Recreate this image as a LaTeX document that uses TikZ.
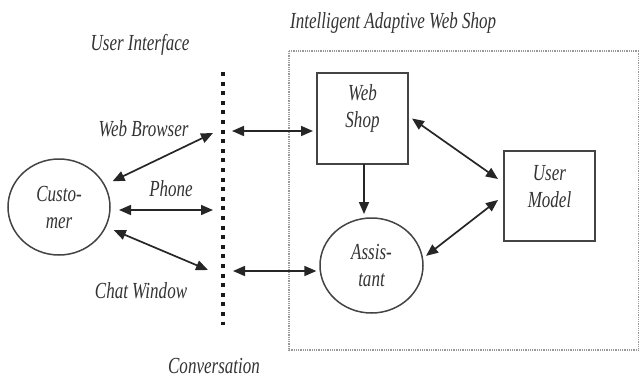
\documentclass[tikz,border=0pt]{standalone}
\usepackage{fontspec}
\setmainfont{Liberation Serif}[FakeStretch=0.74]
\usetikzlibrary{arrows.meta,shapes.geometric}
\definecolor{ink}{HTML}{333333}
\definecolor{edge}{HTML}{444444}
\definecolor{frame}{HTML}{999999}
\begin{document}
\begin{tikzpicture}[x=1pt,y=-1pt,
  lbl/.style={font=\fontsize{23}{27}\selectfont\itshape, text=ink, align=center, inner sep=0pt},
  oval/.style={ellipse, draw=edge, line width=1.5pt, inner sep=0pt},
  block/.style={rectangle, draw=edge, line width=1.8pt, inner sep=0pt, outer sep=4pt},
  tip/.style={Triangle[length=12pt,width=10pt]},
  link/.style={draw=black!85, line width=1.7pt, {Triangle[length=12pt,width=10pt]}-{Triangle[length=12pt,width=10pt]}},
  flow/.style={draw=black!85, line width=1.7pt, -{Triangle[length=12pt,width=10pt]}},
  border/.style={draw=frame, line width=1.3pt, dash pattern=on 1pt off 0.8pt},
  ui/.style={draw=black!90, line width=4pt, dash pattern=on 4pt off 5.6pt}
]
\useasboundingbox (0,0) rectangle (641,378);

% web shop frame
\draw[border] (289,51) rectangle (638.5,350);

% interface line
\coordinate (uiTop) at (222.5,72);
\coordinate (uiBot) at (222.5,325);
\draw[ui] (uiTop) -- (uiBot);

% nodes
\node[oval, minimum width=102, minimum height=96, outer sep=9pt] (cust) at (59,207) {};
\node[lbl] at (cust.center) {Custo-\\mer};
\node[oval, minimum width=103, minimum height=95, outer sep=4pt] (asst) at (371.5,265.5) {};
\node[lbl] at (asst.center) {Assis-\\tant};
\node[block, minimum width=91, minimum height=91] (web) at (362.5,118.5) {};
\node[lbl] at ([yshift=10]web.center) {Web\\Shop};
\node[block, minimum width=91, minimum height=90, outer sep=6pt] (um) at (549.5,196) {};
\node[lbl] at ([yshift=9]um.center) {User\\Model};

% labels
\node[lbl, anchor=west] (title) at (290,23) {Intelligent Adaptive Web Shop};
\node[lbl] (uilbl) at (140,45) {User Interface};
\node[lbl] (wblbl) at (143.5,129) {Web Browser};
\node[lbl] (phlbl) at (171,189) {Phone};
\node[lbl] (cwlbl) at (141,291) {Chat Window};
\node[lbl] (cvlbl) at (214,366) {Conversation};

% points on the interface line
\coordinate (uiWB) at (213,133);
\coordinate (uiPH) at (213,210);
\coordinate (uiCW) at (208,270);
\coordinate (uiWS) at (232,131);
\coordinate (uiAS) at (233,271);

% customer channels
\draw[link] (cust) -- (uiWB);
\draw[link] (cust.east |- uiPH) -- (uiPH);
\draw[link] (cust) -- (uiCW);

% shop side
\draw[link] (uiWS) -- (uiWS -| web.west);
\draw[link] (uiAS) -- (uiAS -| asst.186);
\draw[flow, shorten <=-4pt] ([xshift=1.5]web.south) -- ([xshift=1.5]web.south |- asst.north);
\draw[link] (web.east) -- ([yshift=17]um.west);
\draw[link] (asst.10) -- ([yshift=-4]um.west);
\end{tikzpicture}
\end{document}
